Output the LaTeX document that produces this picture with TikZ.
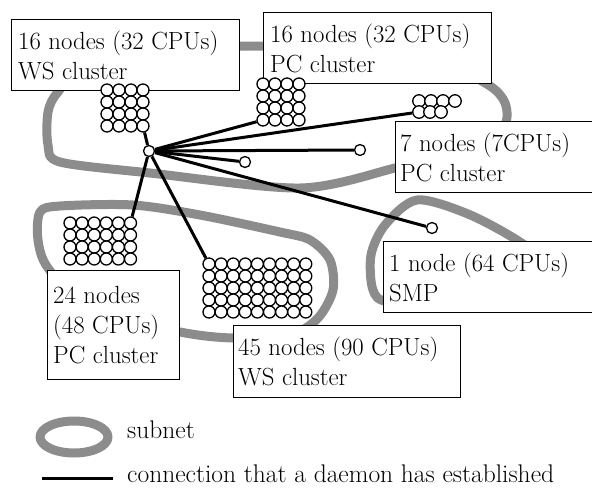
\documentclass[tikz,border=0pt]{standalone}
\tikzset{
  subnet/.style={draw=black!45, line width=9pt, line join=round, line cap=round},
  host/.style={circle, draw=black, fill=white, line width=1.3pt, minimum size=11pt, inner sep=0pt},
  bighost/.style={host, minimum size=12pt},
  infobox/.style={draw=black, fill=white, line width=1.3pt, anchor=north west, inner sep=0pt},
  infotext/.style={anchor=west, align=left, inner sep=0pt, font=\fontsize{24.8}{30}\selectfont},
  legendtext/.style={anchor=base west, inner sep=0pt, font=\fontsize{25.5}{30}\selectfont},
  link/.style={line width=3pt},
}
\begin{document}
\begin{tikzpicture}[x=1pt, y=-1pt]
\clip (0,0) rectangle (592,488);

% ---- subnets ----
\draw[subnet] plot[smooth cycle] coordinates {
  (200,50) (251,46) (330,50) (440,64) (490,86) (506,106) (500,130)
  (440,155) (395,168) (300,188) (150,173) (60,162) (48,145) (48,112)
  (58,92) (90,62)};
\draw[subnet] plot[smooth cycle] coordinates {
  (40,212) (38,240) (48,268) (90,310) (180,332) (233,338) (290,335)
  (318,318) (333,290) (330,260) (310,240) (280,232) (200,215) (133,205)
  (60,206)};
\draw[subnet] plot[smooth cycle] coordinates {
  (417,200) (468,214) (520,242) (560,275) (470,302) (390,302) (373,290)
  (371,255) (385,225)};

% ---- cluster labels ----
\node[infobox, minimum width=228pt, minimum height=71pt] (boxA) at (11,19) {};
\node[infotext] (textA) at ([xshift=7pt]boxA.west) {16 nodes (32 CPUs)\\WS cluster};
\node[infobox, minimum width=228pt, minimum height=71pt] (boxB) at (263,12) {};
\node[infotext] (textB) at ([xshift=7pt]boxB.west) {16 nodes (32 CPUs)\\PC cluster};
\node[infobox, minimum width=215pt, minimum height=71pt] (boxC) at (395,121) {};
\node[infotext] (textC) at ([xshift=5pt]boxC.west) {7 nodes (7CPUs)\\PC cluster};
\node[infobox, minimum width=225pt, minimum height=71pt] (boxD) at (383,241) {};
\node[infotext] (textD) at ([xshift=6pt]boxD.west) {1 node (64 CPUs)\\SMP};
\node[infobox, minimum width=132pt, minimum height=109pt] (boxE) at (47,270) {};
\node[infotext] (textE) at ([xshift=6pt]boxE.west) {24 nodes\\(48 CPUs)\\PC cluster};
\node[infobox, minimum width=227pt, minimum height=72pt] (boxF) at (233,325) {};
\node[infotext] (textF) at ([xshift=5pt]boxF.west) {45 nodes (90 CPUs)\\WS cluster};

% ---- hosts ----
\foreach \c in {0,...,3} \foreach \r in {0,...,3}
  \node[bighost] (wsA-\c-\r) at ({107+12*\c},{90+12*\r}) {};
\foreach \c in {0,...,3} \foreach \r in {0,...,3}
  \node[bighost] (pcB-\c-\r) at ({263+12*\c},{84+12*\r}) {};
\foreach \c in {0,...,3}
  \node[host, minimum size=12.5pt] (pcC-\c-0) at ({419+12*\c},101) {};
\foreach \c in {0,...,2}
  \node[host, minimum size=12.5pt] (pcC-\c-1) at ({419+11*\c},112) {};
\foreach \c in {0,...,5} \foreach \r in {0,...,3}
  \node[bighost] (pcE-\c-\r) at ({70+12.1*\c},{223+12*\r}) {};
\foreach \c in {0,...,8} \foreach \r in {0,...,4}
  \node[bighost] (wsF-\c-\r) at ({209+12.1*\c},{264+12*\r}) {};
\node[host] (single1) at (245,162) {};
\node[host] (single2) at (360,150) {};
\node[host] (smp) at (432,228) {};
\node[host] (hub) at (149,151) {};

% ---- daemon connections ----
\foreach \t in {wsA-3-3, pcB-0-3, pcC-0-1, single2, single1, smp, pcE-5-0, wsF-0-0}
  \draw[link] (hub) -- (\t);

% ---- legend ----
\draw[subnet] (74,437) ellipse [x radius=34pt, y radius=16pt];
\node[legendtext] (subnetLabel) at (127,438) {subnet};
\coordinate (legA) at (42,478);
\coordinate (legB) at (113,478);
\draw[link] (legA) -- (legB);
\node[legendtext] (linkLabel) at (127,482) {connection that a daemon has established};
\end{tikzpicture}
\end{document}
